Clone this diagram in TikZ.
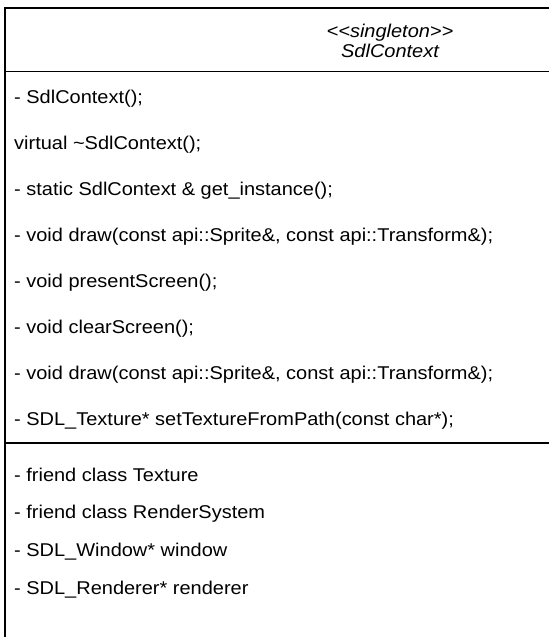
\documentclass[tikz,border=0pt]{standalone}
\usepackage{fontspec}
\setmainfont{Liberation Sans}[FakeStretch=1.08]
\begin{document}
\begin{tikzpicture}[x=1pt,y=-1pt,
  frame/.style={draw=black,line width=1.7pt},
  member/.style={anchor=base west,inner sep=0pt,font=\fontsize{18.5}{20}\selectfont},
  title/.style={anchor=base,inner sep=0pt,font=\fontsize{18.5}{20}\selectfont\itshape}]
\useasboundingbox (0,0) rectangle (549,637);
% class outline: top edge, left edge and compartment separators
\draw[frame] (549,8) -- (4.7,8) -- (4.7,637);
\draw[frame] (4.7,71.5) -- (549,71.5);
\draw[frame] (4.7,442.7) -- (549,442.7);
% header
\node[title] (stereo) at (390,37.3) {<\kern0pt<singleton>\kern0pt>};
\node[title] (cname) at (390,57.7) {SdlContext};
% operations
\node[member] (m1) at (14,103) {- SdlContext();};
\node[member] (m2) at (14,149) {virtual \textasciitilde SdlContext();};
\node[member] (m3) at (14,195) {- static SdlContext \& get\_instance();};
\node[member] (m4) at (14,241) {- void draw(const api::Sprite\&, const api::Transform\&);};
\node[member] (m5) at (14,287) {- void presentScreen();};
\node[member] (m6) at (14,333) {- void clearScreen();};
\node[member] (m7) at (14,379) {- void draw(const api::Sprite\&, const api::Transform\&);};
\node[member] (m8) at (14,425) {- SDL\_Texture* setTextureFromPath(const char*);};
% attributes
\node[member] (a1) at (14,481) {- friend class Texture};
\node[member] (a2) at (14,518.7) {- friend class RenderSystem};
\node[member] (a3) at (14,556.4) {- SDL\_Window* window};
\node[member] (a4) at (14,594) {- SDL\_Renderer* renderer};
\end{tikzpicture}
\end{document}
